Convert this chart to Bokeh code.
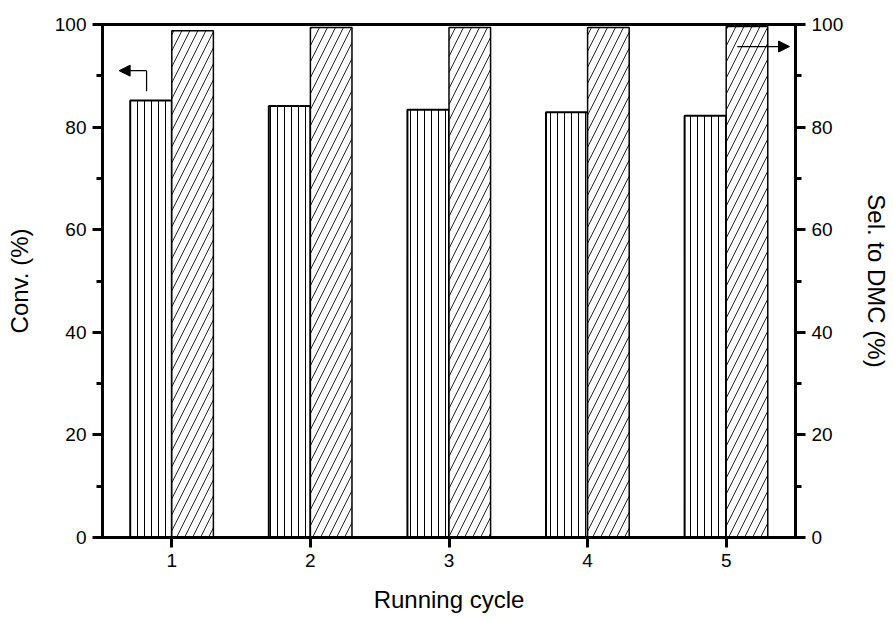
from bokeh.plotting import figure
from bokeh.models import (Range1d, LinearAxis, FixedTicker, SingleIntervalTicker,
                          Arrow, NormalHead)
from bokeh.embed import file_html
from bokeh.resources import INLINE

# ---- data ----
cycles = [1, 2, 3, 4, 5]
conv = [85.2, 84.1, 83.4, 82.9, 82.2]
sel = [98.8, 99.4, 99.4, 99.4, 99.6]

FONT = "Liberation Sans"

p = figure(width=893, height=620, x_range=Range1d(0.5, 5.5), y_range=Range1d(0, 100),
           output_backend="svg", toolbar_location=None,
           min_border_left=102, min_border_right=96, min_border_top=24, min_border_bottom=83)
p.extra_y_ranges = {"sel": Range1d(0, 100)}
p.grid.visible = False
p.background_fill_color = "white"
p.border_fill_color = "white"
p.outline_line_color = "black"
p.outline_line_width = 3

conv_x = [c - 0.15 for c in cycles]
sel_x = [c + 0.15 for c in cycles]

p.vbar(x=conv_x, top=conv, bottom=0, width=0.30, fill_color="white", line_color="black",
       line_width=2, hatch_pattern="vertical_line", hatch_scale=7, hatch_weight=1,
       hatch_color="black")
p.vbar(x=sel_x, top=sel, bottom=0, width=0.30, fill_color="white", line_color="black",
       line_width=1.5, hatch_pattern="right_diagonal_line", hatch_scale=16, hatch_weight=1,
       hatch_color="#222222", y_range_name="sel")

# arrows pointing to the axes
left_arrow_x = [0.818, 0.620]
left_arrow_y = [87.0, 91.0]
right_arrow_x = [5.08, 5.457]
right_arrow_y = 95.7

p.segment(x0=[left_arrow_x[0]], y0=[left_arrow_y[0]], x1=[left_arrow_x[0]], y1=[left_arrow_y[1]],
          line_color="black", line_width=1.2)
p.add_layout(Arrow(end=NormalHead(size=11, fill_color="black", line_color="black"),
                   x_start=left_arrow_x[0], y_start=left_arrow_y[1],
                   x_end=left_arrow_x[1], y_end=left_arrow_y[1],
                   line_color="black", line_width=1.2))
p.add_layout(Arrow(end=NormalHead(size=11, fill_color="black", line_color="black"),
                   x_start=right_arrow_x[0], y_start=right_arrow_y,
                   x_end=right_arrow_x[1], y_end=right_arrow_y,
                   line_color="black", line_width=1.2))

def style_axis(ax):
    ax.axis_line_width = 3
    ax.major_tick_line_width = 3
    ax.minor_tick_line_width = 3
    ax.major_tick_out = 10
    ax.major_tick_in = 0
    ax.minor_tick_out = 6
    ax.minor_tick_in = 0
    ax.major_label_text_font = FONT
    ax.major_label_text_font_size = "19px"
    ax.major_label_text_color = "black"
    ax.axis_label_text_font = FONT
    ax.axis_label_text_font_size = "24px"
    ax.axis_label_text_font_style = "normal"
    ax.axis_label_text_color = "black"
    ax.major_label_standoff = 6

# x axis
xa = p.xaxis[0]
style_axis(xa)
xa.ticker = FixedTicker(ticks=cycles)
xa.minor_tick_out = 0
xa.axis_label = "Running cycle"
xa.axis_label_standoff = 16

# left y axis
ya = p.yaxis[0]
style_axis(ya)
ya.ticker = SingleIntervalTicker(interval=20, num_minor_ticks=2)
ya.axis_label = "Conv. (%)"
ya.axis_label_standoff = 19

# right y axis
ra = LinearAxis(y_range_name="sel", ticker=SingleIntervalTicker(interval=20, num_minor_ticks=2))
style_axis(ra)
ra.axis_label = "Sel. to DMC (%)"
ra.axis_label_standoff = 17
p.add_layout(ra, "right")

open("out.html", "w").write(file_html(p, INLINE))
